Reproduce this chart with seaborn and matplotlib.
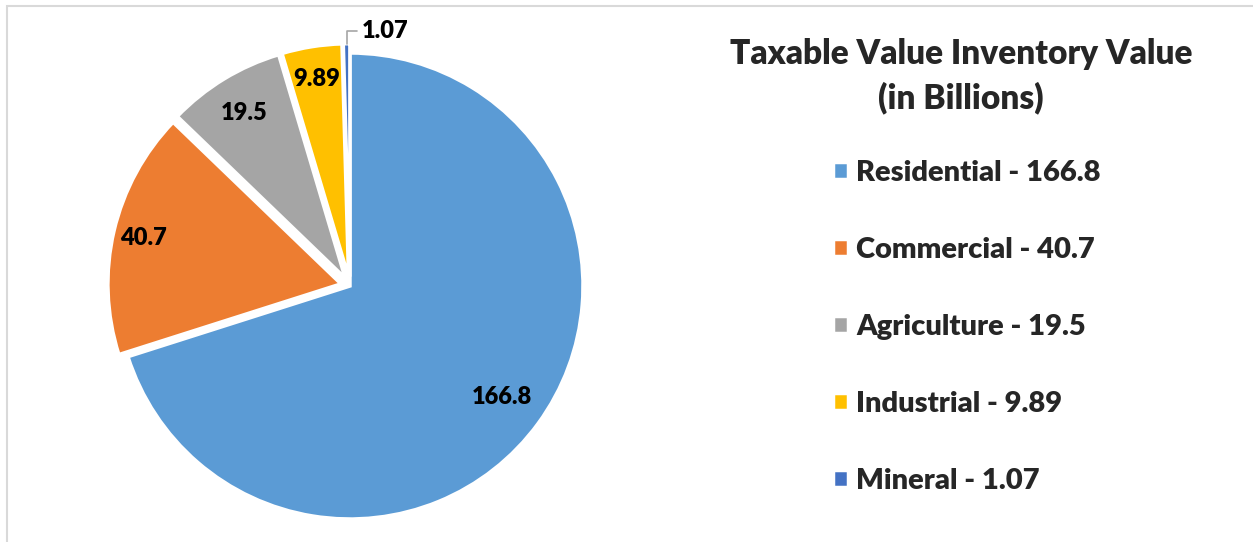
import numpy as np
import seaborn as sns
import matplotlib.pyplot as plt
from matplotlib.patches import Rectangle

categories = ['Residential', 'Commercial', 'Agriculture', 'Industrial', 'Mineral']
values = [166.8, 40.7, 19.5, 9.89, 1.07]
value_labels = ['166.8', '40.7', '19.5', '9.89', '1.07']
colors = ['#5B9BD5', '#ED7D31', '#A5A5A5', '#FFC000', '#4472C4']
title = 'Taxable Value Inventory Value\n(in Billions)'

sns.set_theme(style='white')
plt.rcParams['font.family'] = ['Lato', 'DejaVu Sans']
FW = 'heavy'
plt.rcParams['font.weight'] = FW

W, H = 1253, 542
fig = plt.figure(figsize=(W / 100, H / 100), dpi=100)

# pie axes: centre ~ (350, 286) px, radius ~ 233 px
cx, cy, r = 350, 286, 233
half = 300
ax = fig.add_axes([(cx - half) / W, (H - cy - half) / H, 2 * half / W, 2 * half / H])
wedges, _ = ax.pie(values, colors=colors, startangle=90, counterclock=False,
                   explode=[0, 0.04, 0.04, 0.04, 0.04],
                   wedgeprops={'edgecolor': 'white', 'linewidth': 2.5})
lim = half / r
ax.set_xlim(-lim, lim)
ax.set_ylim(-lim, lim)
ax.set_aspect('equal')
ax.axis('off')

# value labels inside slices
label_r = [0.81, 0.87, 0.83, 0.86]
for w, txt, rr in zip(wedges[:4], value_labels[:4], label_r):
    th = np.deg2rad((w.theta1 + w.theta2) / 2)
    ox, oy = w.center
    ax.text(ox + rr * np.cos(th), oy + rr * np.sin(th), txt, ha='center', va='center',
            fontsize=17, fontweight=FW, color='black')

# small slice gets a callout
w = wedges[4]
th = np.deg2rad((w.theta1 + w.theta2) / 2)
ox, oy = w.center
ax.annotate(value_labels[4], xy=(ox + 1.0 * np.cos(th), oy + 1.0 * np.sin(th)),
            xytext=(11, 9), textcoords='offset points', ha='left', va='center',
            fontsize=17, fontweight=FW, color='black',
            arrowprops=dict(arrowstyle='-', color='#A6A6A6', lw=1.2,
                            connectionstyle='angle,angleA=0,angleB=90,rad=0',
                            shrinkA=1, shrinkB=0))

fig.text(961 / W, 1 - 76 / H, title, ha='center', va='center', fontsize=24,
         fontweight=FW, linespacing=1.45)

leg_labels = [f'{c} - {v}' for c, v in zip(categories, value_labels)]
fig.legend(wedges, leg_labels, loc='upper left', bbox_to_anchor=(833 / W, 1 - 160 / H),
           frameon=False, fontsize=21, handlelength=0.5, handleheight=0.5,
           handletextpad=0.3, labelspacing=1.75, borderpad=0, borderaxespad=0)

# outer frame (only top and left visible)
fig.add_artist(Rectangle((7 / W, -0.1), 1.2, 1 - 5.5 / H + 0.1, transform=fig.transFigure,
                         fill=False, edgecolor='#D9D9D9', linewidth=1.5))

fig.savefig('out.png', dpi=100)
